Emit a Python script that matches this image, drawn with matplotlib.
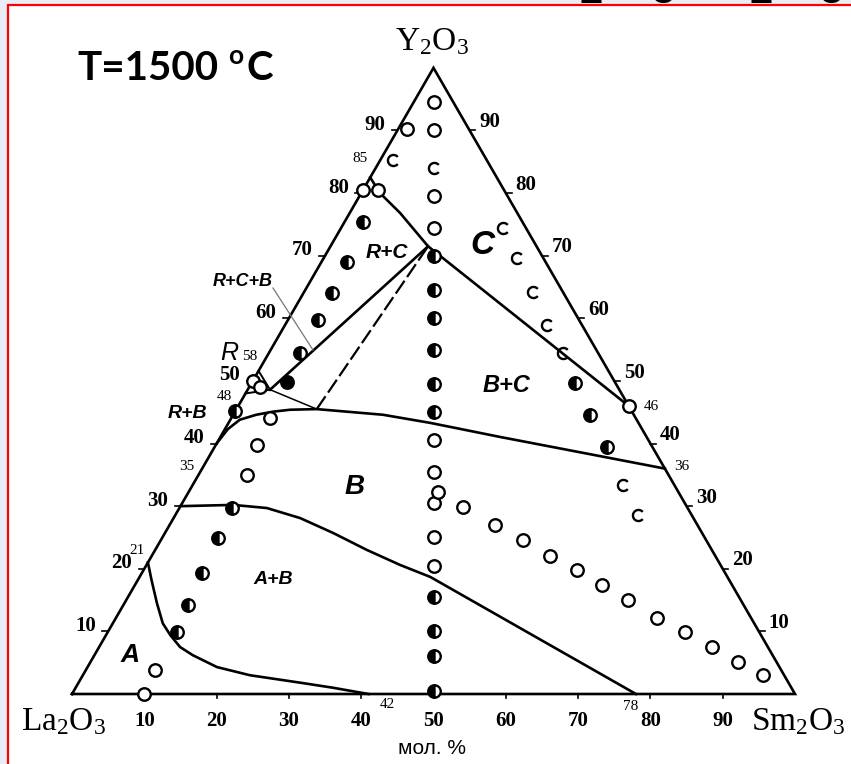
import numpy as np
import matplotlib.pyplot as plt
from matplotlib.path import Path
from matplotlib.lines import Line2D
from matplotlib.patches import Rectangle

plt.rcParams['mathtext.fontset'] = 'custom'
plt.rcParams['mathtext.rm'] = 'Liberation Serif'
plt.rcParams['mathtext.it'] = 'Liberation Serif:italic'
plt.rcParams['mathtext.bf'] = 'Liberation Serif:bold'

# all compositions as (Sm2O3 mol.%, Y2O3 mol.%), La2O3 is the rest
open_sm = [2.75, 5, 10.25, 12.75, 29.75, 32.25, 34.75, 37.5, 39.75,
           10, 9.6, 6.7, 5.7, 5.3, 0, 1.5, 2.1, 0, 1.2,
           54,
           34.5, 39.1, 45.0, 50.1, 55.1, 60.0, 64.6, 69.4, 74.9, 79.8, 84.8, 89.6, 94.1]
open_y = [94.5, 90, 79.5, 74.5, 40.5, 35.5, 30.5, 25, 20.5,
          0, 3.8, 35.0, 39.8, 44.1, 50, 49, 80.5, 80.5, 90.3,
          46,
          32.3, 29.9, 27.0, 24.6, 22.0, 19.8, 17.4, 15.0, 12.1, 9.9, 7.5, 5.1, 3.0]

half_sm = [15, 17.75, 20, 22.5, 25.25, 27.5, 42.25, 45, 47, 49.75,
           9.6, 8.9, 8.3, 7.7, 7.3, 0, 4.3, 4.2, 3.9, 3.5, 2.55,
           44.7, 49.35, 54.25]
half_y = [70, 64.5, 60, 55, 49.5, 45, 15.5, 10, 6, 0.5,
          9.9, 14.2, 19.3, 24.9, 29.7, 45.2, 54.5, 59.7, 64.1, 69.0, 75.4,
          49.7, 44.6, 39.5]

full_sm = [4.8]
full_y = [49.8]

# broken circles (C phase)
brk_sm = [8, 1.75, 22.4, 26.75, 31.66, 36.25, 40.66, 59.5, 64.0]
brk_y = [84, 85.3, 74.4, 69.6, 64.2, 58.9, 54.5, 33.4, 28.6]

# phase boundaries
a_sm = [0, 1.9, 4.5, 6.9, 8.9, 11.2, 13.6, 17.9, 23.1, 30.7, 35.6, 41]
a_y = [21, 18.2, 14.5, 11.3, 9.4, 7.5, 6.2, 4.3, 3.0, 1.8, 1.0, 0]
ab_sm = [0, 7.2, 12.1, 17.5, 23.3, 29.3, 35.1, 40.2, 78]
ab_y = [30, 30.2, 29.7, 28.1, 25.7, 23.0, 20.6, 18.7, 0]
b_sm = [0, 0.4, 1.3, 3.2, 5.3, 7.5, 11.1, 20.7, 27.9, 38.7, 54.0, 64]
b_y = [40, 42.3, 43.8, 44.6, 45.1, 45.4, 45.5, 44.6, 43.3, 41.05, 38.0, 36]
c_sm = [0, 2.6, 7.0, 13.5, 54]
c_y = [82.5, 80.0, 76.8, 71.5, 46]
r_sm = [0, 3.1, 0]
r_y = [51.6, 48.6, 48]
rcb_sm = [3.1, 11.1, 13.5]   # R, B, C corners of the three-phase triangle
rcb_y = [48.6, 45.5, 71.5]

ticks = [10, 20, 30, 40, 50, 60, 70, 80, 90]


def tern(sm, y):
    sm = np.asarray(sm, float)
    y = np.asarray(y, float)
    return sm + y / 2.0, y * np.sqrt(3) / 2.0


fig = plt.figure(figsize=(8.51, 7.64), dpi=100)
fig.patch.set_facecolor('#e8edf6')
fig.add_artist(Rectangle((8 / 851, -0.01), 1.0, 1 - 5 / 764 + 0.01,
                         transform=fig.transFigure, facecolor='white',
                         edgecolor='#ff0000', lw=1.6, zorder=0))
# bottom of a cut-off heading above the frame
for xf, t in [(0.695, '2'), (0.779, '3'), (0.894, '2'), (0.976, '3')]:
    fig.text(xf, 1 - 3 / 764, t, fontsize=30, fontweight='bold',
             family='Liberation Sans', ha='center', va='baseline', zorder=1)

ax = fig.add_axes([0, 0, 1, 1])
ax.set_xlim(-72 / 7.23, (851 - 72) / 7.23)
ax.set_ylim(-70 / 7.23, 694 / 7.23)
ax.axis('off')
ax.patch.set_alpha(0)

lw = 1.9
# outer triangle
tx, ty = tern([0, 100, 0, 0], [0, 0, 100, 0])
ax.plot(tx, ty, color='k', lw=lw, solid_joinstyle='miter', zorder=2)

# edge ticks
for v in ticks:
    x, y = tern(v, 0)
    ax.plot([x, x], [y, y - 0.55], color='k', lw=1.2)
    x, y = tern(0, v)
    ax.plot([x, x - 0.8], [y, y], color='k', lw=1.2)
    x, y = tern(100 - v, v)
    ax.plot([x, x + 0.8], [y, y], color='k', lw=1.2)

# boundaries
for s, y in [(a_sm, a_y), (ab_sm, ab_y), (b_sm, b_y), (c_sm, c_y)]:
    ax.plot(*tern(s, y), color='k', lw=lw, zorder=2)
ax.plot(*tern(r_sm, r_y), color='k', lw=1.4, zorder=2)
ax.plot(*tern([rcb_sm[0], rcb_sm[2]], [rcb_y[0], rcb_y[2]]), color='k', lw=lw, zorder=2)
ax.plot(*tern(rcb_sm[:2], rcb_y[:2]), color='k', lw=1.1, zorder=2)
ax.plot(*tern(rcb_sm[1:], rcb_y[1:]), color='k', lw=1.6, ls=(0, (7, 2)), zorder=2)

# samples
ms, mew = 9, 1.7
ax.plot(*tern(open_sm, open_y), ls='none', marker='o', ms=ms, mew=mew,
        mfc='white', mec='k', zorder=3)
ax.plot(*tern(half_sm, half_y), ls='none', marker='o', ms=ms, mew=mew,
        fillstyle='left', mfc='k', markerfacecoloralt='white', mec='k', zorder=3)
ax.plot(*tern(full_sm, full_y), ls='none', marker='o', ms=ms, mew=mew,
        mfc='k', mec='k', zorder=3)
ax.plot(*tern(brk_sm, brk_y), ls='none', marker=Path.arc(40, 320), ms=ms - 1,
        mew=mew, mfc='none', mec='k', zorder=3)

# tick labels
lab = dict(fontsize=15, fontweight='bold', family='Liberation Serif')
for v in ticks:
    ax.annotate(str(v), tern(v, 0), xytext=(0, -12), textcoords='offset points',
                ha='center', va='top', **lab)
    ax.annotate(str(v), tern(0, v), xytext=(-9, 4), textcoords='offset points',
                ha='right', va='center', **lab)
    ax.annotate(str(v), tern(100 - v, v), xytext=(7, 6), textcoords='offset points',
                ha='left', va='center', **lab)

small = dict(fontsize=11, family='Liberation Serif', ha='center', va='center')
for t, px, py in [('21', 137, 551), ('35', 187, 467), ('48', 224, 396),
                  ('85', 360, 159), ('42', 387, 705), ('78', 631, 706),
                  ('46', 651, 406), ('36', 682, 467), ('58', 250, 356)]:
    fig.text(px / 851, 1 - py / 764, t, **small)

# vertices
vert = dict(fontsize=24, family='Liberation Serif', ha='center', va='center')
fig.text(432 / 851, 1 - 42 / 764, r'Y$_2$O$_3$', **vert)
fig.text(64 / 851, 1 - 722 / 764, r'La$_2$O$_3$', **vert)
fig.text(798 / 851, 1 - 722 / 764, r'Sm$_2$O$_3$', **vert)
fig.text(432 / 851, 1 - 748 / 764, 'мол. %', fontsize=15,
         family='Liberation Sans', ha='center', va='center')

# phase fields
reg = dict(family='Liberation Sans', fontweight='bold', style='italic',
           ha='center', va='center')
for t, px, py, fs in [('R+C+B', 243, 282, 13), ('R+C', 387, 253, 15),
                      ('C', 482, 245, 24), ('B+C', 506, 385, 17),
                      ('R+B', 187, 413, 14), ('B', 355, 487, 20),
                      ('A+B', 273, 580, 14), ('A', 130, 655, 19)]:
    fig.text(px / 851, 1 - py / 764, t, fontsize=fs, **reg)
fig.text(229 / 851, 1 - 353 / 764, 'R', fontsize=18, family='Liberation Sans',
         style='italic', ha='center', va='center')
fig.add_artist(Line2D([273 / 851, 313 / 851], [1 - 288 / 764, 1 - 350 / 764],
                      transform=fig.transFigure, color='#777777', lw=0.9))

# temperature
fig.text(77 / 851, 1 - 80 / 764, 'T=1500', fontsize=29, fontweight='bold',
         family='Lato', ha='left', va='baseline')
fig.text(236 / 851, 1 - 64 / 764, 'o', fontsize=19, fontweight='bold',
         family='Lato', ha='center', va='baseline')
fig.text(246 / 851, 1 - 80 / 764, 'C', fontsize=29, fontweight='bold',
         family='Lato', ha='left', va='baseline')

fig.savefig('out.png', dpi=100, facecolor=fig.get_facecolor())
